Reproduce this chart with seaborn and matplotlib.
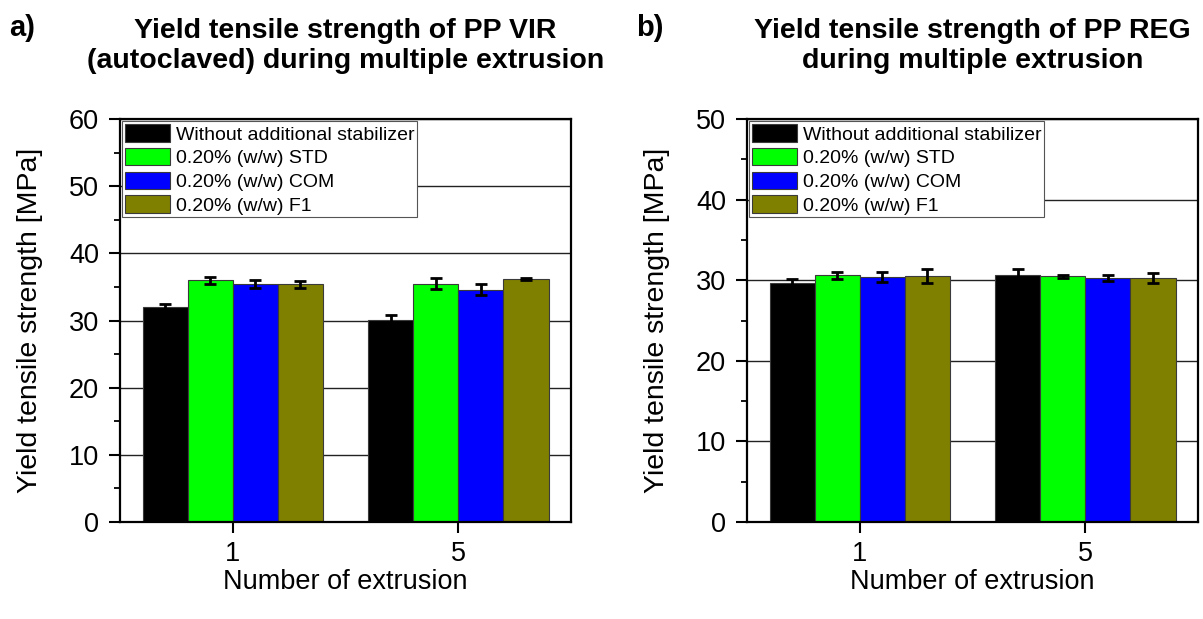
import numpy as np
import pandas as pd
import matplotlib
matplotlib.use("Agg")
import matplotlib.pyplot as plt
from matplotlib.ticker import MultipleLocator
import seaborn as sns

# ---- data ----
extrusions = ["1", "5"]
series = ["Without additional stabilizer", "0.20% (w/w) STD",
          "0.20% (w/w) COM", "0.20% (w/w) F1"]
colors = ["#000000", "#00FF00", "#0000FF", "#808000"]

vir_mean = {"Without additional stabilizer": [32.0, 30.1],
            "0.20% (w/w) STD": [36.0, 35.5],
            "0.20% (w/w) COM": [35.4, 34.6],
            "0.20% (w/w) F1": [35.4, 36.2]}
vir_err = {"Without additional stabilizer": [0.4, 0.7],
           "0.20% (w/w) STD": [0.5, 0.8],
           "0.20% (w/w) COM": [0.6, 0.8],
           "0.20% (w/w) F1": [0.5, 0.2]}
reg_mean = {"Without additional stabilizer": [29.7, 30.6],
            "0.20% (w/w) STD": [30.6, 30.5],
            "0.20% (w/w) COM": [30.4, 30.3],
            "0.20% (w/w) F1": [30.5, 30.3]}
reg_err = {"Without additional stabilizer": [0.5, 0.8],
           "0.20% (w/w) STD": [0.4, 0.2],
           "0.20% (w/w) COM": [0.6, 0.4],
           "0.20% (w/w) F1": [0.9, 0.6]}

titles = ["Yield tensile strength of PP VIR\n(autoclaved) during multiple extrusion",
          "Yield tensile strength of PP REG\nduring multiple extrusion"]
panel_labels = ["a)", "b)"]
ylims = [60, 50]
ylabel = "Yield tensile strength [MPa]"
xlabel = "Number of extrusion"

sns.set_theme(style="white")
plt.rcParams["font.family"] = ["Liberation Sans", "DejaVu Sans"]
for key in ["text.color", "axes.labelcolor", "xtick.color", "ytick.color"]:
    plt.rcParams[key] = "black"


def make_df(mean, err):
    rows = []
    for s in series:
        for i, e in enumerate(extrusions):
            rows.append({"extrusion": e, "series": s,
                         "value": mean[s][i], "err": err[s][i]})
    return pd.DataFrame(rows)


fig = plt.figure(figsize=(12.03, 6.19), dpi=100)
ax_pos = [[0.0998, 0.1567, 0.3749, 0.651],
          [0.6210, 0.1567, 0.3749, 0.651]]
datasets = [(vir_mean, vir_err), (reg_mean, reg_err)]

for k in range(2):
    ax = fig.add_axes(ax_pos[k])
    df = make_df(*datasets[k])
    sns.barplot(data=df, x="extrusion", y="value", hue="series",
                hue_order=series, order=extrusions, palette=colors,
                errorbar=None, width=0.8, edgecolor="#3a3a3a",
                linewidth=0.8, saturation=1, ax=ax, zorder=2)
    # error bars at the bar centres found by seaborn
    for container, s in zip(ax.containers, series):
        sub = df[df["series"] == s].set_index("extrusion").loc[extrusions]
        xs = [p.get_x() + p.get_width() / 2 for p in container.patches]
        ys = [p.get_height() for p in container.patches]
        ax.errorbar(xs, ys, yerr=sub["err"].values, fmt="none",
                    ecolor="black", elinewidth=2, capsize=4.5,
                    capthick=2, zorder=3)
    ax.set_xlim(-0.5, 1.5)
    ax.set_ylim(0, ylims[k])
    ax.yaxis.set_major_locator(MultipleLocator(10))
    ax.yaxis.set_minor_locator(MultipleLocator(5))
    ax.set_axisbelow(True)
    ax.grid(axis="y", which="major", color="#222222", linewidth=1.0)
    ax.grid(axis="x", visible=False)
    for sp in ax.spines.values():
        sp.set_visible(True)
        sp.set_color("black")
        sp.set_linewidth(1.6)
    ax.tick_params(axis="y", which="major", direction="out", length=8,
                   width=1.5, labelsize=19.5, pad=7, left=True, right=False)
    ax.tick_params(axis="y", which="minor", direction="out", length=4,
                   width=1.3, left=True, right=False)
    ax.tick_params(axis="x", which="major", direction="out", length=8,
                   width=1.5, labelsize=19.5, pad=6, bottom=True, top=False)
    ax.set_ylabel(ylabel, fontsize=20.5)
    ax.yaxis.set_label_coords(-0.17, 0.5)
    ax.set_xlabel(xlabel, fontsize=19.5, labelpad=1)
    ax.set_title(titles[k], fontsize=20.5, fontweight="bold",
                 linespacing=1.2, pad=37)
    leg = ax.legend(loc="upper left", bbox_to_anchor=(0.0, 1.0),
                    borderaxespad=0.12, fontsize=14.0, frameon=True,
                    fancybox=False, edgecolor="#555555", framealpha=1,
                    handlelength=2.3, handleheight=1.0,
                    handletextpad=0.3, labelspacing=0.22,
                    borderpad=0.15, title=None)
    leg.get_frame().set_linewidth(0.8)
    x_lab = ax_pos[k][0] - 0.092
    fig.text(x_lab, 0.955, panel_labels[k], fontsize=21,
             fontweight="bold", ha="left", va="center")

fig.savefig("out.png", dpi=100)
